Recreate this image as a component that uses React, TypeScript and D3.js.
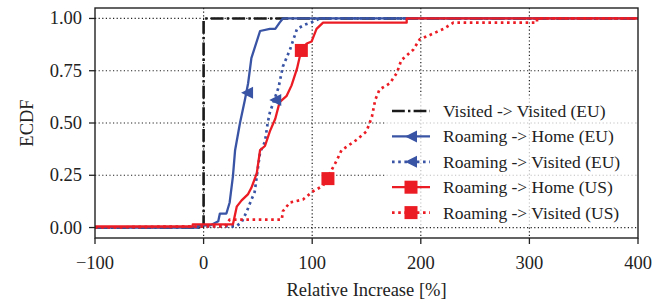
import React, { useEffect, useRef } from "react";
import * as d3 from "d3";

const W = 662;
const H = 303;

const xTicks = [-100, 0, 100, 200, 300, 400];
const yTicks = [0, 0.25, 0.5, 0.75, 1.0];

// [relative increase %, ecdf]
const visitedVisitedEU = [[-100, 0], [-1, 0], [-1, 0.01], [0, 0.01], [0, 0.99], [1, 1], [400, 1]];
const roamingHomeEU = [
  [-100, 0], [-5, 0], [-5, 0.01], [6, 0.01], [13.5, 0.03], [15, 0.067], [21, 0.067], [24, 0.12],
  [27, 0.245], [29, 0.37], [33.5, 0.5], [38, 0.61], [41, 0.69], [44, 0.81], [52, 0.94],
  [61, 0.95], [66, 0.95], [70, 0.98], [73, 1.0], [400, 1.0],
];
const roamingVisitedEU = [
  [-100, 0], [30, 0.006], [35, 0.025], [40, 0.08], [43, 0.12], [47, 0.17], [52, 0.36],
  [56.5, 0.41], [59, 0.5], [61, 0.55], [69, 0.67], [73, 0.77], [79.5, 0.85], [86, 0.95],
  [93, 0.97], [101, 0.985], [107, 1.0], [400, 1.0],
];
const roamingHomeUS = [
  [-100, 0.005], [-10, 0.005], [-10, 0.015], [27, 0.015], [30.5, 0.1], [35, 0.13], [41, 0.16],
  [44, 0.19], [49, 0.26], [52, 0.37], [56.5, 0.39], [61, 0.46], [66, 0.52], [70, 0.6],
  [76.5, 0.63], [81, 0.68], [86, 0.76], [90, 0.85], [95, 0.88], [99.5, 0.89], [104, 0.95],
  [110, 0.98], [187, 0.98], [187, 1.0], [400, 1.0],
];
const roamingVisitedUS = [
  [-100, 0], [20, 0.006], [24, 0.038], [72, 0.038], [73, 0.078], [79.5, 0.12], [91.5, 0.134],
  [101, 0.174], [110, 0.2], [122.5, 0.32], [127, 0.37], [141, 0.42], [150, 0.46], [155, 0.53],
  [158, 0.61], [162, 0.66], [171.5, 0.69], [178, 0.74], [182, 0.8], [193, 0.85], [199, 0.9],
  [208, 0.92], [221, 0.95], [230, 0.98], [307, 0.98], [307, 1.0], [400, 1.0],
];

const seriesNames = [
  "Visited -> Visited (EU)",
  "Roaming -> Home (EU)",
  "Roaming -> Visited (EU)",
  "Roaming -> Home (US)",
  "Roaming -> Visited (US)",
];
const seriesData = [visitedVisitedEU, roamingHomeEU, roamingVisitedEU, roamingHomeUS, roamingVisitedUS];
const seriesColors = ["#1a1a1a", "#3a54a5", "#3a54a5", "#ec1c24", "#ec1c24"];
const seriesDash = ["12.8,3.2,2.4,3.2", null, "2.6,3.6", null, "2.6,3.6"];
const seriesWidth = [2.6, 2.3, 2.7, 2.3, 2.7];
const seriesMarker = [null, "triangle", "triangle", "square", "square"];
const markerAt = [null, [40, 0.645], [66, 0.61], [90, 0.847], [114.5, 0.234]];

const FONT = "'Liberation Serif', 'Times New Roman', serif";

const App = () => {
  const ref = useRef(null);

  useEffect(() => {
    const svg = d3.select(ref.current);
    svg.selectAll("*").remove();

    const left = 95, right = 638, top = 8, bottom = 238;
    const x = d3.scaleLinear().domain([-100, 400]).range([left, right]);
    const y = d3.scaleLinear().domain([-0.05, 1.05]).range([bottom, top]);

    const g = svg.append("g");

    // grid
    g.selectAll(".gx").data(xTicks.slice(1, -1)).enter().append("line")
      .attr("x1", (d) => x(d)).attr("x2", (d) => x(d))
      .attr("y1", top).attr("y2", bottom)
      .attr("stroke", "#222").attr("stroke-width", 1.2).attr("stroke-dasharray", "1.2,2.4");
    g.selectAll(".gy").data(yTicks).enter().append("line")
      .attr("x1", left).attr("x2", right)
      .attr("y1", (d) => y(d)).attr("y2", (d) => y(d))
      .attr("stroke", "#222").attr("stroke-width", 1.2).attr("stroke-dasharray", "1.2,2.4");

    const line = d3.line().x((d) => x(d[0])).y((d) => y(d[1]));

    const clip = svg.append("clipPath").attr("id", "plotclip");
    clip.append("rect").attr("x", left).attr("y", top).attr("width", right - left).attr("height", bottom - top);

    const plot = g.append("g").attr("clip-path", "url(#plotclip)");

    const drawMarker = (sel, kind, cx, cy, color, s) => {
      if (kind === "triangle") {
        sel.append("path")
          .attr("d", `M${cx - s / 2},${cy} L${cx + s / 2},${cy - s / 2} L${cx + s / 2},${cy + s / 2} Z`)
          .attr("fill", color);
      } else if (kind === "square") {
        sel.append("rect")
          .attr("x", cx - s / 2).attr("y", cy - s / 2)
          .attr("width", s).attr("height", s)
          .attr("fill", color);
      }
    };

    seriesData.forEach((data, i) => {
      const p = plot.append("path")
        .attr("d", line(data))
        .attr("fill", "none")
        .attr("stroke", seriesColors[i])
        .attr("stroke-width", seriesWidth[i])
        .attr("stroke-linejoin", "round");
      if (seriesDash[i]) p.attr("stroke-dasharray", seriesDash[i]);
    });
    seriesData.forEach((data, i) => {
      const m = markerAt[i];
      if (m) drawMarker(plot, seriesMarker[i], x(m[0]), y(m[1]), seriesColors[i], seriesMarker[i] === "square" ? 13 : 12);
    });

    // legend
    const lg = g.append("g");
    lg.append("rect")
      .attr("x", 386).attr("y", 97).attr("width", 250).attr("height", 129)
      .attr("fill", "white").attr("fill-opacity", 0.72).attr("stroke", "none");
    seriesNames.forEach((name, i) => {
      const cy = 111 + i * 25.4;
      const hl = lg.append("line")
        .attr("x1", 392).attr("x2", 430).attr("y1", cy).attr("y2", cy)
        .attr("stroke", seriesColors[i])
        .attr("stroke-width", seriesWidth[i]);
      if (seriesDash[i]) hl.attr("stroke-dasharray", seriesDash[i]);
      if (seriesMarker[i]) drawMarker(lg, seriesMarker[i], 411, cy, seriesColors[i], seriesMarker[i] === "square" ? 13 : 12);
      lg.append("text")
        .attr("x", 443).attr("y", cy + 6)
        .attr("font-family", FONT).attr("font-size", 17.5).attr("fill", "#222")
        .text(name);
    });

    // spines
    g.append("rect")
      .attr("x", left).attr("y", top).attr("width", right - left).attr("height", bottom - top)
      .attr("fill", "none").attr("stroke", "#222").attr("stroke-width", 1.4);

    // x axis
    xTicks.forEach((t) => {
      g.append("line").attr("x1", x(t)).attr("x2", x(t)).attr("y1", bottom).attr("y2", bottom + 6)
        .attr("stroke", "#222").attr("stroke-width", 1.3);
      g.append("text").attr("x", x(t)).attr("y", 269)
        .attr("text-anchor", "middle").attr("font-family", FONT).attr("font-size", 18.5).attr("fill", "#222")
        .text(t < 0 ? `\u2212${Math.abs(t)}` : `${t}`);
    });
    yTicks.forEach((t) => {
      g.append("line").attr("x1", left - 6).attr("x2", left).attr("y1", y(t)).attr("y2", y(t))
        .attr("stroke", "#222").attr("stroke-width", 1.3);
      g.append("text").attr("x", 82).attr("y", y(t) + 6)
        .attr("text-anchor", "end").attr("font-family", FONT).attr("font-size", 18.5).attr("fill", "#222")
        .text(d3.format(".2f")(t));
    });

    g.append("text").attr("x", (left + right) / 2).attr("y", 296)
      .attr("text-anchor", "middle").attr("font-family", FONT).attr("font-size", 18.5).attr("fill", "#222")
      .text("Relative Increase [%]");
    g.append("text")
      .attr("transform", `translate(33, ${(top + bottom) / 2}) rotate(-90)`)
      .attr("text-anchor", "middle").attr("font-family", FONT).attr("font-size", 18.5).attr("fill", "#222")
      .text("ECDF");
  }, []);

  return (
    <div style={{ position: "absolute", left: 0, top: 0, background: "white" }}>
      <svg ref={ref} width={W} height={H} style={{ display: "block" }}></svg>
    </div>
  );
};

export default App;
